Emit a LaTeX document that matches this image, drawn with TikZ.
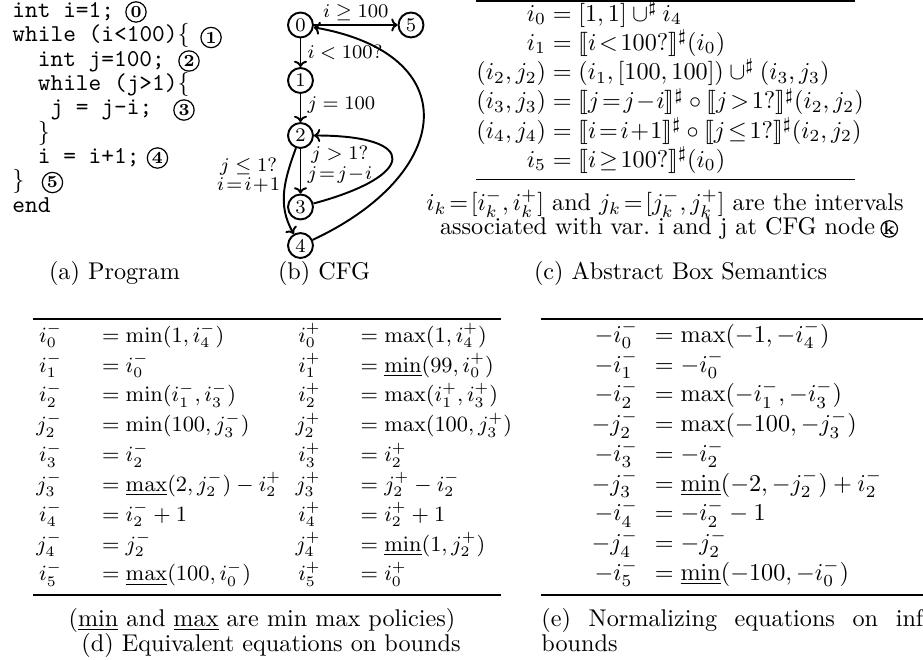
\documentclass[tikz,border=0pt]{standalone}
\usepackage{amsmath}
\usepackage{amssymb}
\usepackage{stmaryrd}
\usetikzlibrary{positioning, arrows.meta}

\begin{document}
\begin{tikzpicture}[
  >={To[length=2.6pt, width=5.4pt]},
  srcline/.style={font=\ttfamily, inner sep=0pt, anchor=base west},
  cnum/.style={circle, draw, line width=0.5pt, inner sep=0pt,
               minimum size=8.4pt, font=\scriptsize\bfseries},
  cfgnode/.style={circle, draw, line width=0.8pt, inner sep=0pt,
                  minimum size=10.3pt, font=\footnotesize},
  lab/.style={font=\footnotesize, inner sep=2.5pt},
  flow/.style={->, line width=0.8pt},
  eqrule/.style={line width=0.8pt},
  eqblock/.style={inner sep=0pt, anchor=north west},
  subcap/.style={inner sep=0pt},
]
\useasboundingbox (0,0) rectangle (13.405,-9.571);

% ---- (a) program ---------------------------------------------------------
\foreach \cl [count=\k from 0] in {{int i=1;}, {while (i<100)$\{$},
    {~~int j=100;}, {~~while (j>1)$\{$}, {~~~j = j-i;}, {~~$\}$},
    {~~i = i+1;}, {$\}$}, {end}} {
  \node[srcline] (src\k) at (0.174,-0.251-0.354*\k) {\cl};
}
\foreach \n/\x/\y in {0/1.975/-0.174, 1/3.065/-0.545, 2/2.745/-0.886,
                      3/2.672/-1.598, 4/2.287/-2.295, 5/0.762/-2.651} {
  \node[cnum] (pp\n) at (\x,\y) {\n};
}
\node[subcap] (capa) at (1.663,-3.965) {(a) Program};

% ---- (b) control flow graph ----------------------------------------------
\node[cfgnode] (n0) at (4.364,-0.363) {0};
\node[cfgnode] (n1) at (4.364,-1.169) {1};
\node[cfgnode] (n2) at (4.364,-1.968) {2};
\node[cfgnode] (n3) at (4.364,-3.006) {3};
\node[cfgnode] (n4) at (4.364,-3.566) {4};
\node[cfgnode] (n5) at (5.969,-0.363) {5};

\draw[flow] (n0) -- node[lab, right] {$i<100?$} (n1);
\draw[flow] (n1) -- node[lab, right, pos=0.4] {$j=100$} (n2);
\draw[flow] (n2) -- node[lab, right, pos=0.35, align=center]
  {$j>1?$\\[-1pt]$j\!=\!j\!-\!i$} (n3);
\draw[flow] (n3) to[out=15, in=0, looseness=4] (n2);
\draw[flow] (n2) to[out=250, in=120]
  node[lab, left, pos=0.3, align=center]
  {$j\leq 1?$\\[-1.5pt]$i\!=\!i\!+\!1$} (n4);
\draw[flow] (n4) to[out=25, in=-10, looseness=1.87] (n0);
\draw[flow] (n0) -- node[lab, above, inner sep=1.5pt] {$i\geq 100$} (n5);
\node[subcap] (capb) at (4.706,-3.965) {(b) CFG};

% ---- (c) abstract box semantics ------------------------------------------
\node[eqblock] (semc) at (6.913,0) {$\begin{array}{@{}r@{\;=\;}l@{}}
  i_0 & [1,1]\cup^\sharp i_4\\
  i_1 & \llbracket i\!<\!100?\rrbracket^\sharp(i_0)\\
  (i_2,j_2) & (i_1,[100,100])\cup^\sharp(i_3,j_3)\\
  (i_3,j_3) & \llbracket j\!=\!j\!-\!i\rrbracket^\sharp\circ
              \llbracket j\!>\!1?\rrbracket^\sharp(i_2,j_2)\\
  (i_4,j_4) & \llbracket i\!=\!i\!+\!1\rrbracket^\sharp\circ
              \llbracket j\!\leq\!1?\rrbracket^\sharp(i_2,j_2)\\
  i_5 & \llbracket i\!\geq\!100?\rrbracket^\sharp(i_0)
\end{array}$};
\node[anchor=base, inner sep=0pt] (notea) at (9.658,-3.060)
  {$i_k\!=\![i_k^-,i_k^+]$ and $j_k\!=\![j_k^-,j_k^+]$ are the intervals};
\node[anchor=base, inner sep=0pt] (noteb) at (9.550,-3.413)
  {associated with var.\ i and j at CFG node};
\node[cnum, minimum size=6.6pt, right=2pt of noteb] (ck) {k};
\node[subcap] (capc) at (9.884,-3.965) {(c) Abstract Box Semantics};

% ---- (d) equations on bounds ---------------------------------------------
\node[eqblock, font=\small] (eqdl) at (0.523,-4.662)
  {\def\arraystretch{1.12}$\begin{array}{@{}r@{\hspace{16.5pt}=\;}l@{}}
  i_0^- & \min(1,i_4^-)\\
  i_1^- & i_0^-\\
  i_2^- & \min(i_1^-,i_3^-)\\
  j_2^- & \min(100,j_3^-)\\
  i_3^- & i_2^-\\
  j_3^- & \underline{\max}(2,j_2^-)-i_2^+\\
  i_4^- & i_2^-+1\\
  j_4^- & j_2^-\\
  i_5^- & \underline{\max}(100,i_0^-)
\end{array}$};
\node[eqblock, font=\small] (eqdr) at (4.285,-4.662)
  {\def\arraystretch{1.12}$\begin{array}{@{}r@{\hspace{16.5pt}=\;}l@{}}
  i_0^+ & \max(1,i_4^+)\\
  i_1^+ & \underline{\min}(99,i_0^+)\\
  i_2^+ & \max(i_1^+,i_3^+)\\
  j_2^+ & \max(100,j_3^+)\\
  i_3^+ & i_2^+\\
  j_3^+ & j_2^+-i_2^-\\
  i_4^+ & i_2^++1\\
  j_4^+ & \underline{\min}(1,j_2^+)\\
  i_5^+ & i_0^+
\end{array}$};
\node[anchor=base, inner sep=0pt] (noted) at (3.805,-9.092)
  {(\underline{min} and \underline{max} are min max policies)};
\node[anchor=base, inner sep=0pt] (capd) at (3.936,-9.455)
  {(d) Equivalent equations on bounds};

% ---- (e) normalized inf bounds -------------------------------------------
\node[eqblock] (eqe) at (8.584,-4.662)
  {\def\arraystretch{1.025}$\begin{array}{@{}r@{\hspace{7pt}=\;}l@{}}
  -i_0^- & \max(-1,-i_4^-)\\
  -i_1^- & -i_0^-\\
  -i_2^- & \max(-i_1^-,-i_3^-)\\
  -j_2^- & \max(-100,-j_3^-)\\
  -i_3^- & -i_2^-\\
  -j_3^- & \underline{\min}(-2,-j_2^-)+i_2^-\\
  -i_4^- & -i_2^--1\\
  -j_4^- & -j_2^-\\
  -i_5^- & \underline{\min}(-100,-i_0^-)
\end{array}$};
\node[anchor=north west, inner sep=0pt, text width=157.8pt, align=justify,
      font=\linespread{0.86}\selectfont] (cape) at (7.857,-8.828)
  {\tolerance=9999 (e) Normalizing equations on inf bounds};

% rules of the three tables
\foreach \xa/\xb/\yy in {6.913/12.418/-0.019, 6.913/12.418/-2.607,
                         0.479/7.277/-4.638, 0.479/7.277/-8.642,
                         7.857/13.405/-4.638, 7.857/13.405/-8.642}
  \draw[eqrule] (\xa,\yy) -- (\xb,\yy);

\end{tikzpicture}
\end{document}
